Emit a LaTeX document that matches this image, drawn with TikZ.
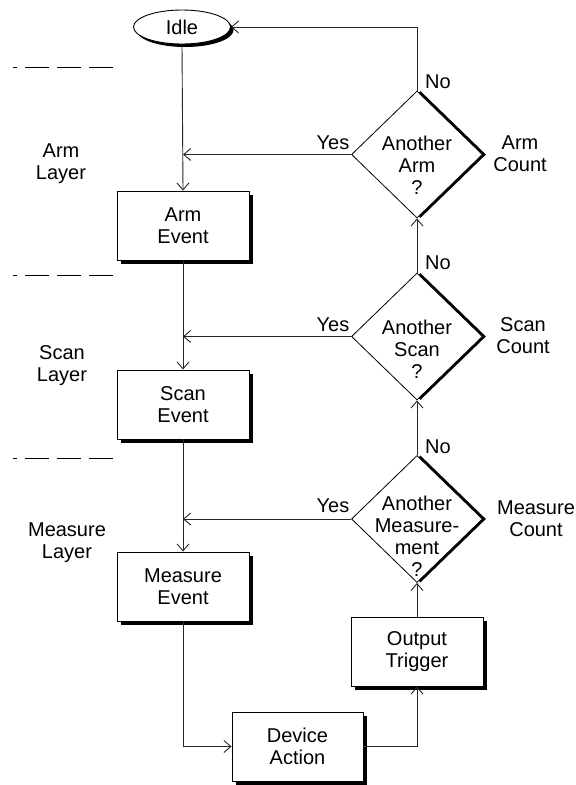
\documentclass[tikz,border=0pt]{standalone}
\usepackage{fontspec}
\setmainfont{Liberation Sans}
\usetikzlibrary{arrows.meta,shapes.geometric,shadows}
\begin{document}
\begin{tikzpicture}[x=1pt,y=-1pt,
  every node/.style={font=\fontsize{20}{22}\selectfont, align=center, inner sep=0pt},
  conn/.style={line width=0.9pt, draw=black!85},
  arr/.style={conn, -{Straight Barb[length=7pt,width=12pt]}},
  procbox/.style={draw, line width=0.9pt, fill=white, minimum width=132pt, minimum height=69pt,
    drop shadow={shadow xshift=4pt, shadow yshift=-4pt, opacity=1, fill=black}},
  decision/.style={diamond, draw, line width=0.8pt, fill=white, minimum width=131pt, minimum height=127pt,
    drop shadow={shadow xshift=3.5pt, shadow yshift=0pt, opacity=1, fill=black}},
  startstop/.style={ellipse, draw, line width=0.9pt, fill=white, minimum width=97pt, minimum height=34pt,
    drop shadow={shadow xshift=3pt, shadow yshift=-3pt, opacity=1, fill=black}},
  layersep/.style={line width=0.9pt, dash pattern=on 24pt off 8pt, dash phase=20pt}
]
\useasboundingbox (0,0) rectangle (576,785);

% nodes
\node[startstop] (idle) at (182,27) {Idle};
\node[procbox] (armev) at (183,225.5) {Arm\\Event};
\node[procbox] (scanev) at (183,404.5) {Scan\\Event};
\node[procbox] (measev) at (183,586.5) {Measure\\Event};
\node[procbox, minimum width=131pt] (devact) at (297.5,746.5) {Device\\Action};
\node[procbox] (outtrig) at (417,651.5) {Output\\Trigger};

\node[decision] (dA) at (417,154.5) {};
\node[decision] (dS) at (417,336.5) {};
\node[decision] (dM) at (417,519) {};

\node (tA) at (417,165) {Another\\Arm\\?};
\node (tS) at (417,349) {Another\\Scan\\?};
\node (tM) at (417,536) {Another\\Measure-\\ment\\?};

% layer labels
\node (lA) at (61,164) {Arm\\Layer};
\node (lS) at (62,366) {Scan\\Layer};
\node (lM) at (67,543) {Measure\\Layer};

% count labels
\node (cA) at (520,154) {Arm\\Count};
\node (cS) at (523,336) {Scan\\Count};
\node (cM) at (536,519) {Measure\\Count};

% yes / no labels
\node (yA) at (333,143) {Yes};
\node (yS) at (333,325) {Yes};
\node (yM) at (333,506) {Yes};
\node (nA) at (438,82) {No};
\node (nS) at (438,263) {No};
\node (nM) at (438,447) {No};

% layer separators
\coordinate (s1a) at (13,67);  \coordinate (s1b) at (113,67);
\coordinate (s2a) at (13,275); \coordinate (s2b) at (113,275);
\coordinate (s3a) at (13,458); \coordinate (s3b) at (113,458);
\draw[layersep] (s1a) -- (s1b);
\draw[layersep] (s2a) -- (s2b);
\draw[layersep] (s3a) -- (s3b);

% connectors
\draw[arr] (idle.south) -- (armev.north);
\draw[arr] (armev.south) -- (scanev.north);
\draw[arr] (scanev.south) -- (measev.north);
\draw[arr] (measev.south) |- (devact.west);
\draw[arr] (devact.east) -| (outtrig.south);
\draw[arr] (outtrig.north) -- (dM.south);
\draw[arr] (dM.north) -- (dS.south);
\draw[arr] (dS.north) -- (dA.south);
\draw[arr] (dA.north) |- (idle.east);
\draw[arr] (dA.west) -- (dA.west -| armev.north);
\draw[arr] (dS.west) -- (dS.west -| scanev.north);
\draw[arr] (dM.west) -- (dM.west -| measev.north);
\end{tikzpicture}
\end{document}
